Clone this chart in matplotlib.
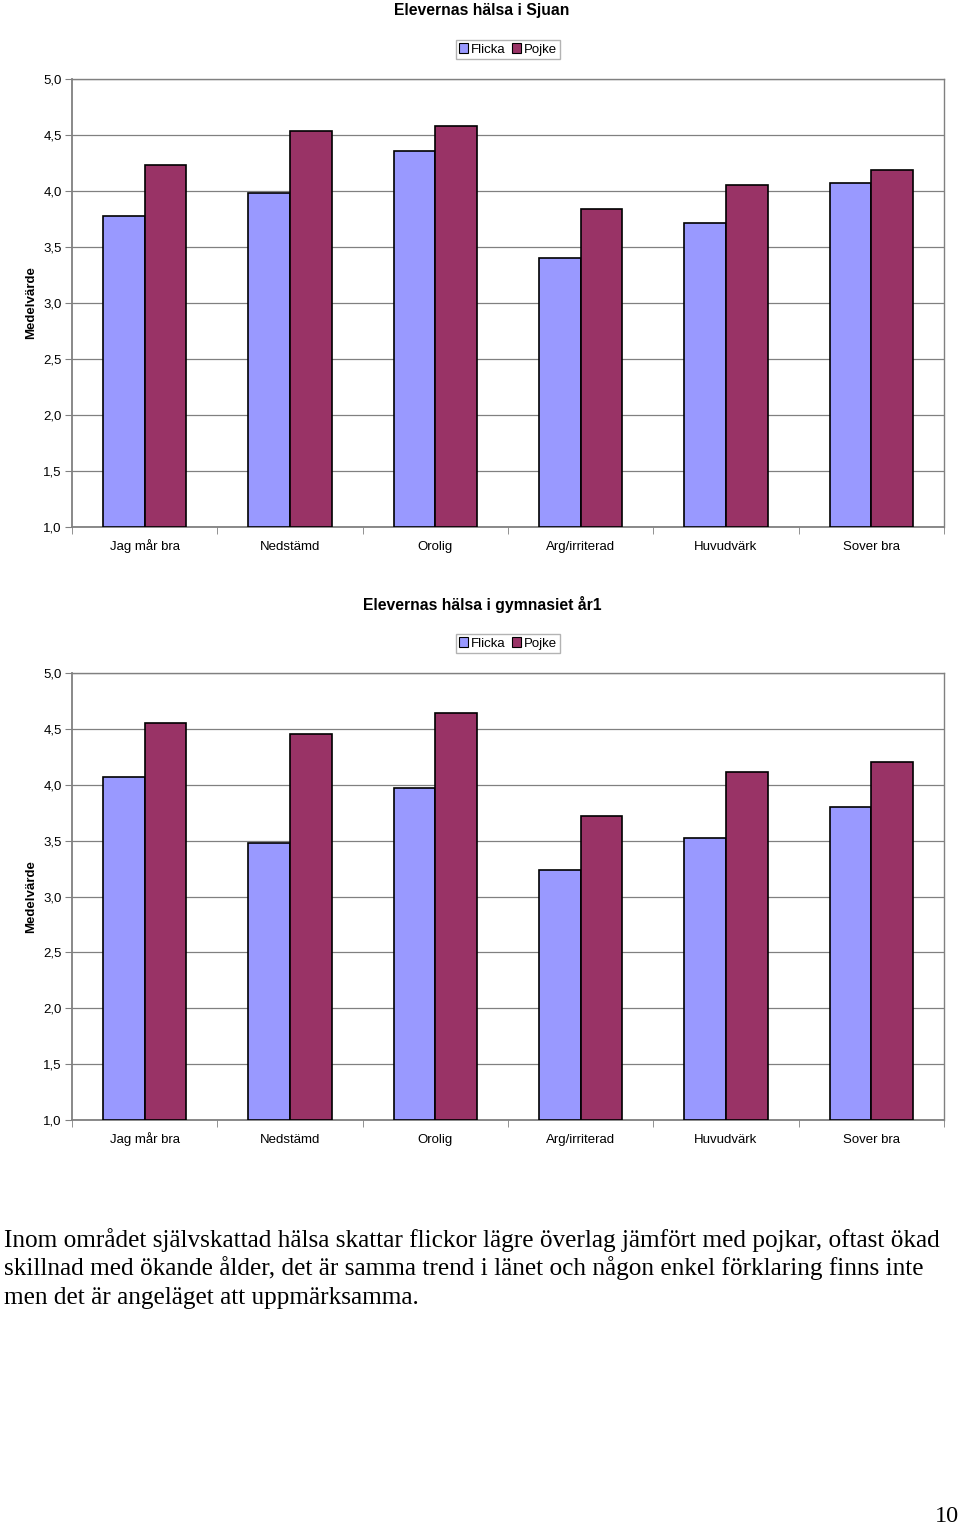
import numpy as np
import matplotlib.pyplot as plt

categories = ['Jag mår bra', 'Nedstämd', 'Orolig', 'Arg/irriterad', 'Huvudvärk', 'Sover bra']
series = ['Flicka', 'Pojke']

# Sjuan
sjuan_flicka = [3.78, 3.98, 4.36, 3.40, 3.71, 4.07]
sjuan_pojke = [4.23, 4.54, 4.58, 3.84, 4.05, 4.19]

# gymnasiet år1
gy1_flicka = [4.07, 3.48, 3.97, 3.24, 3.52, 3.80]
gy1_pojke = [4.55, 4.45, 4.64, 3.72, 4.11, 4.20]

yticks = [1.0, 1.5, 2.0, 2.5, 3.0, 3.5, 4.0, 4.5, 5.0]
ytick_labels = ['1,0', '1,5', '2,0', '2,5', '3,0', '3,5', '4,0', '4,5', '5,0']

body_lines = ["Inom området självskattad hälsa skattar flickor lägre överlag jämfört med pojkar, oftast ökad",
              "skillnad med ökande ålder, det är samma trend i länet och någon enkel förklaring finns inte",
              "men det är angeläget att uppmärksamma."]

colors = ['#9999FF', '#993366']
plt.rcParams['font.family'] = ['Liberation Sans', 'DejaVu Sans']

W, H = 960, 1527
fig = plt.figure(figsize=(W / 100, H / 100), dpi=100)


def draw_chart(rect, title, flicka, pojke):
    ax = fig.add_axes(rect)
    x = np.arange(len(categories))
    w = 0.286
    ax.bar(x - w / 2, np.array(flicka) - 1.0, w, bottom=1.0, color=colors[0],
           edgecolor='black', linewidth=1.2, label=series[0], zorder=3)
    ax.bar(x + w / 2, np.array(pojke) - 1.0, w, bottom=1.0, color=colors[1],
           edgecolor='black', linewidth=1.2, label=series[1], zorder=3)
    ax.set_xlim(-0.5, len(categories) - 0.5)
    ax.set_ylim(1.0, 5.0)
    ax.set_yticks(yticks)
    ax.set_yticklabels(ytick_labels, fontsize=9.5)
    ax.set_xticks(x)
    ax.set_xticklabels(categories, fontsize=9.5)
    for lab in ax.get_xticklabels():
        lab.set_verticalalignment('baseline')
    ax.tick_params(axis='x', length=0, pad=16.5)
    ax.set_xticks(np.arange(len(categories) + 1) - 0.5, minor=True)
    ax.tick_params(axis='x', which='minor', length=5, color='#808080')
    ax.tick_params(axis='y', length=5, color='#808080', pad=2.5)
    ax.grid(axis='y', color='#808080', linewidth=0.9, zorder=0)
    for s in ax.spines.values():
        s.set_color('#808080')
        s.set_linewidth(1.0)
    ax.spines['left'].set_linewidth(1.3)
    ax.spines['bottom'].set_linewidth(1.3)
    ax.set_ylabel('Medelvärde', fontsize=9.5, fontweight='bold')
    ax.yaxis.set_label_coords(-35 / 872, 0.5)
    top = rect[1] + rect[3]
    fig.text(482 / W, top + 69 / H, title, fontsize=11.3, fontweight='bold',
             ha='center', va='center')
    leg = ax.legend(loc='lower center', bbox_to_anchor=(0.5, 1.045), ncol=2,
                    fontsize=9.5, frameon=True, fancybox=False, handlelength=0.7,
                    handleheight=0.7, handletextpad=0.2, columnspacing=0.5,
                    borderpad=0.25, borderaxespad=0)
    leg.get_frame().set_edgecolor('#a0a0a0')
    leg.get_frame().set_linewidth(1.0)
    for h in leg.legend_handles:
        h.set_edgecolor('black')
        h.set_linewidth(0.8)
    return ax


draw_chart([72 / W, 1 - 527 / H, 872 / W, 448 / H], 'Elevernas hälsa i Sjuan',
           sjuan_flicka, sjuan_pojke)
draw_chart([72 / W, 1 - 1120 / H, 872 / W, 447 / H], 'Elevernas hälsa i gymnasiet år1',
           gy1_flicka, gy1_pojke)

for i, line in enumerate(body_lines):
    fig.text(4 / W, 1 - (1247 + 28.5 * i) / H, line, fontsize=18.2,
             family='Liberation Serif', va='baseline', ha='left')
fig.text(0.999, 1 - 1516 / H, '10', fontsize=17.5, family='Liberation Serif',
         va='center', ha='right')

fig.savefig('out.png', dpi=100)
